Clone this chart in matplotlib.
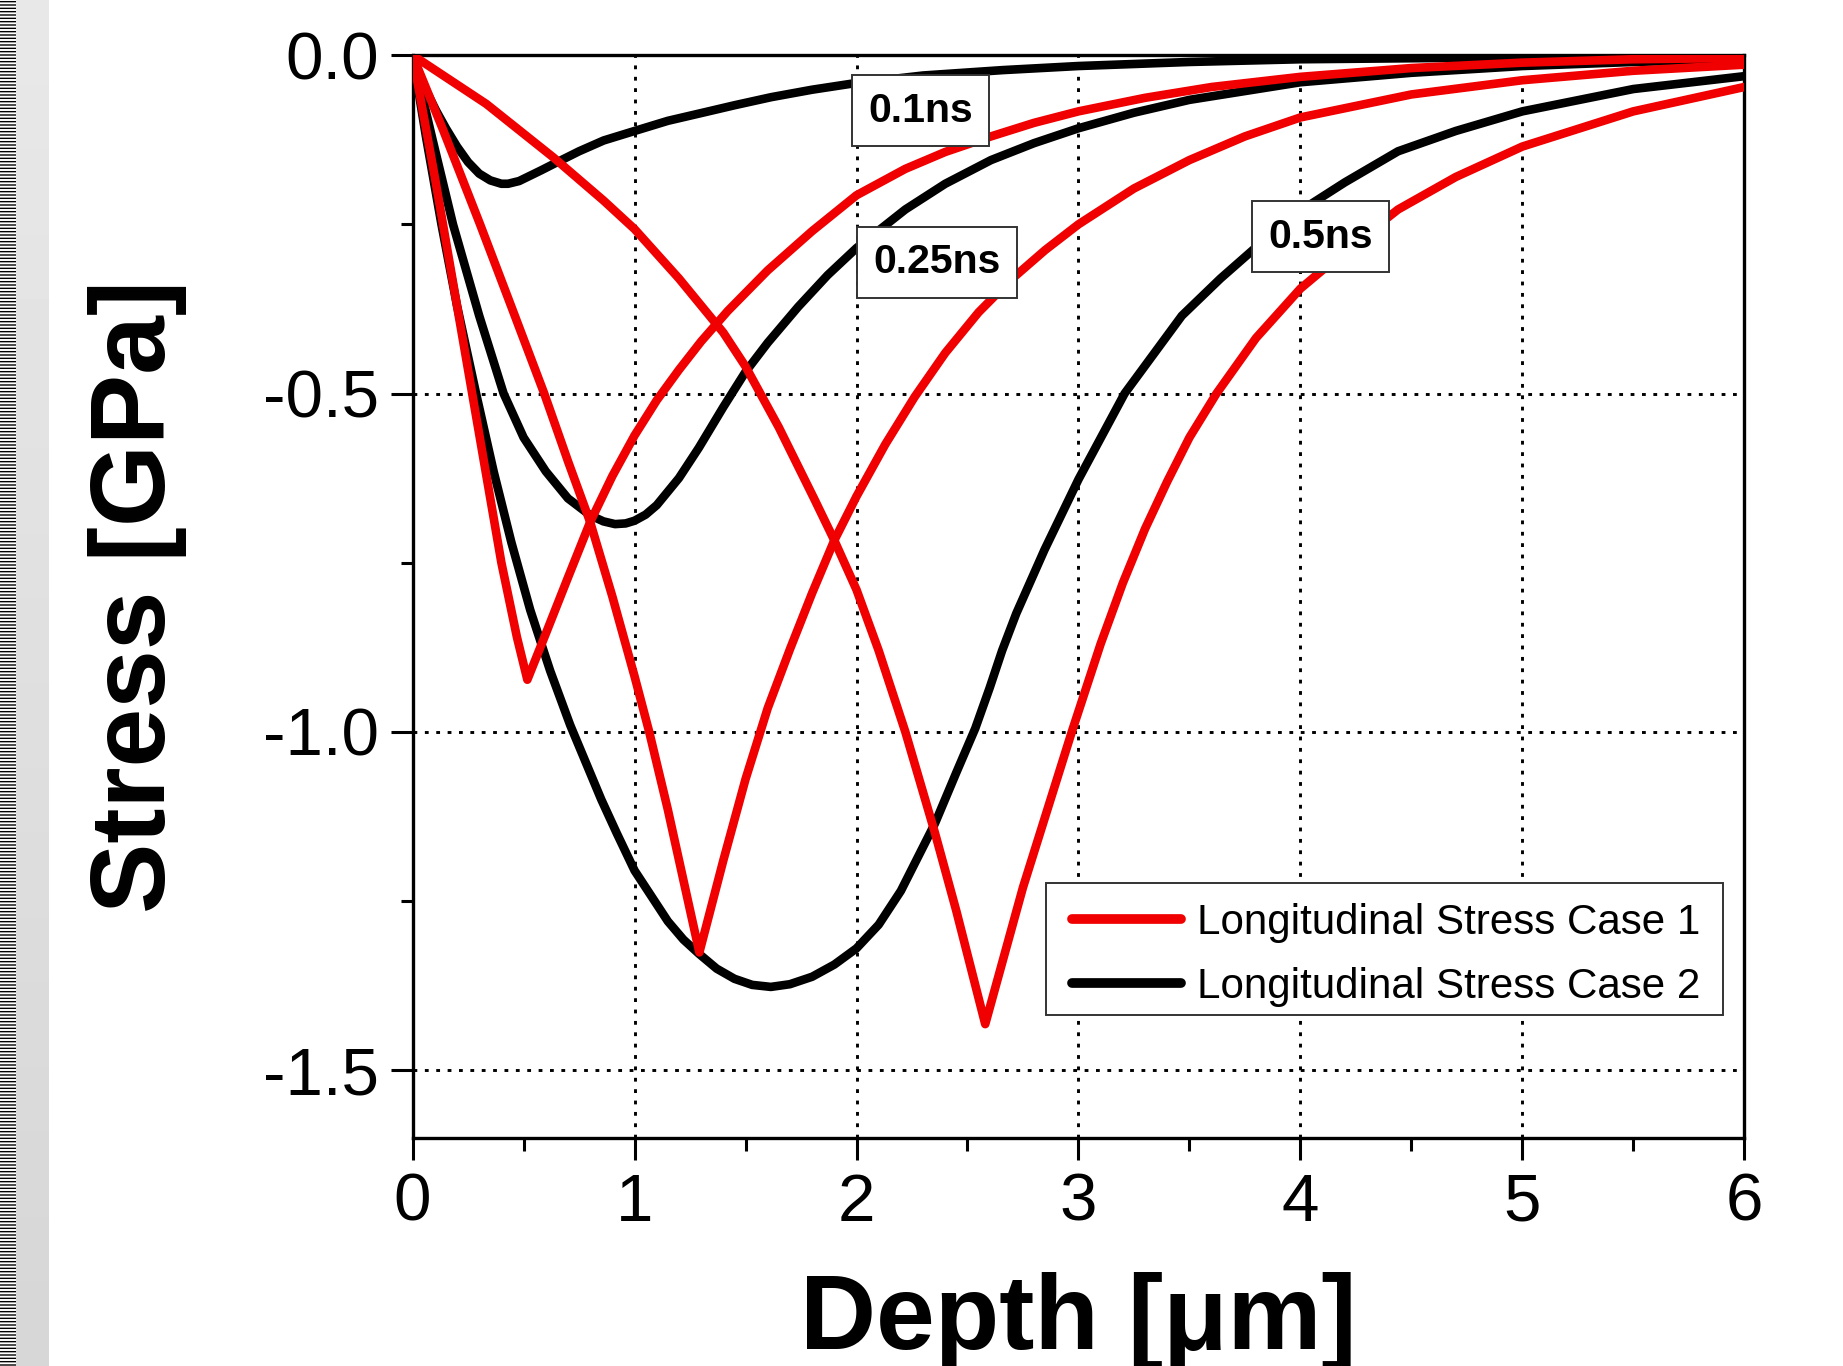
import numpy as np
import matplotlib
matplotlib.use("Agg")
import matplotlib.pyplot as plt
from matplotlib.ticker import MultipleLocator, FixedLocator
from matplotlib.patches import Rectangle

plt.rcParams['font.family'] = ['Liberation Sans', 'DejaVu Sans']
plt.rcParams['axes.unicode_minus'] = False
plt.rcParams['hatch.linewidth'] = 1.0

# ---------------- data ----------------
# Case 1 (red), 0.1 ns
c1_t01_x = [0, 0.1, 0.2, 0.3, 0.4, 0.47, 0.517, 0.6, 0.7, 0.8, 0.9, 1.0, 1.1, 1.2, 1.3, 1.42,
            1.6, 1.8, 2.0, 2.22, 2.4, 2.606, 2.8, 3.0, 3.3, 3.6, 4.0, 4.5, 5.0, 5.5, 6.0]
c1_t01_y = [0, -0.18, -0.37, -0.56, -0.75, -0.86, -0.923, -0.855, -0.772, -0.69, -0.622, -0.562,
            -0.51, -0.465, -0.423, -0.378, -0.318, -0.26, -0.207, -0.168, -0.143, -0.12, -0.1,
            -0.083, -0.063, -0.047, -0.032, -0.019, -0.011, -0.006, -0.004]
# Case 1 (red), 0.25 ns
c1_t025_x = [0, 0.137, 0.304, 0.45, 0.593, 0.7, 0.8, 0.9, 1.0, 1.066, 1.15, 1.292, 1.4, 1.5,
             1.6, 1.7, 1.8, 1.9, 2.0, 2.13, 2.262, 2.4, 2.55, 2.692, 2.85, 3.0, 3.25, 3.5, 3.75,
             4.0, 4.5, 5.0, 5.5, 6.0]
c1_t025_y = [0, -0.11, -0.25, -0.376, -0.5, -0.6, -0.69, -0.8, -0.918, -1.0, -1.115, -1.326, -1.19,
             -1.07, -0.965, -0.878, -0.795, -0.717, -0.652, -0.575, -0.505, -0.44, -0.38, -0.333,
             -0.288, -0.25, -0.197, -0.155, -0.12, -0.092, -0.058, -0.037, -0.023, -0.014]
# Case 1 (red), 0.5 ns
c1_t05_x = [0, 0.332, 0.634, 0.861, 1.0, 1.2, 1.4, 1.5, 1.65, 1.81, 1.9, 2.0, 2.1, 2.22, 2.354,
            2.45, 2.58, 2.75, 2.97, 3.1, 3.2, 3.3, 3.4, 3.5, 3.622, 3.8, 4.0, 4.2, 4.44, 4.7, 5.0,
            5.5, 6.0]
c1_t05_y = [0, -0.072, -0.151, -0.215, -0.257, -0.33, -0.41, -0.46, -0.55, -0.656, -0.717, -0.79,
            -0.88, -1.0, -1.15, -1.265, -1.432, -1.23, -1.0, -0.87, -0.78, -0.7, -0.63, -0.565,
            -0.5, -0.418, -0.345, -0.29, -0.228, -0.18, -0.135, -0.083, -0.047]
# Case 2 (black), 0.1 ns
c2_t01_x = [0, 0.05, 0.106, 0.15, 0.2, 0.25, 0.3, 0.35, 0.4, 0.43, 0.48, 0.53, 0.58, 0.634, 0.75,
            0.861, 1.0, 1.15, 1.32, 1.45, 1.616, 1.8, 1.98, 2.3, 2.66, 3.0, 3.5, 4.0, 5.0, 6.0]
c2_t01_y = [0, -0.045, -0.082, -0.108, -0.135, -0.158, -0.175, -0.185, -0.19, -0.19, -0.186,
            -0.178, -0.17, -0.161, -0.142, -0.126, -0.112, -0.097, -0.084, -0.074, -0.062, -0.051,
            -0.042, -0.03, -0.022, -0.016, -0.01, -0.006, -0.003, -0.002]
# Case 2 (black), 0.25 ns
c2_t025_x = [0, 0.09, 0.182, 0.3, 0.41, 0.5, 0.6, 0.7, 0.8, 0.86, 0.912, 0.96, 1.0, 1.05, 1.1,
             1.2, 1.29, 1.4, 1.5, 1.6, 1.737, 1.87, 2.0, 2.22, 2.4, 2.606, 2.8, 3.0, 3.25, 3.5,
             4.0, 4.5, 5.0, 5.5, 6.0]
c2_t025_y = [0, -0.125, -0.25, -0.385, -0.5, -0.565, -0.615, -0.655, -0.68, -0.689, -0.693,
             -0.692, -0.688, -0.679, -0.665, -0.625, -0.58, -0.52, -0.468, -0.425, -0.372, -0.325,
             -0.285, -0.228, -0.19, -0.155, -0.13, -0.108, -0.085, -0.066, -0.04, -0.026, -0.016,
             -0.01, -0.006]
# Case 2 (black), 0.5 ns
c2_t05_x = [0, 0.06, 0.13, 0.2, 0.286, 0.365, 0.445, 0.53, 0.62, 0.71, 0.85, 0.92, 1.0, 1.08,
            1.15, 1.22, 1.29, 1.37, 1.45, 1.53, 1.614, 1.7, 1.8, 1.9, 2.0, 2.1, 2.2, 2.354, 2.45,
            2.535, 2.6, 2.656, 2.72, 2.847, 3.0, 3.208, 3.466, 3.64, 3.81, 4.0, 4.2, 4.44, 4.7,
            5.0, 5.5, 6.0]
c2_t05_y = [0, -0.12, -0.25, -0.37, -0.5, -0.615, -0.72, -0.82, -0.91, -0.99, -1.1, -1.15, -1.205,
            -1.245, -1.28, -1.307, -1.328, -1.35, -1.365, -1.374, -1.377, -1.373, -1.362, -1.344,
            -1.32, -1.285, -1.235, -1.135, -1.06, -0.995, -0.935, -0.88, -0.825, -0.731, -0.627,
            -0.5, -0.385, -0.33, -0.281, -0.23, -0.188, -0.142, -0.112, -0.083, -0.05, -0.031]

legend_labels = ["Longitudinal Stress Case 1", "Longitudinal Stress Case 2"]
time_labels = ["0.1ns", "0.25ns", "0.5ns"]
time_label_x = [2.288, 2.362, 4.089]
time_label_y = [-0.082, -0.306, -0.268]

x_ticks = [0, 1, 2, 3, 4, 5, 6]
y_ticks = [0.0, -0.5, -1.0, -1.5]
y_tick_labels = ["0.0", "-0.5", "-1.0", "-1.5"]

# ---------------- figure ----------------
W, H = 1843, 1366
fig = plt.figure(figsize=(W / 100, H / 100), dpi=100)
fig.patch.set_facecolor('white')

# left page-edge decoration
grad_ax = fig.add_axes([16 / W, 0, 32 / W, 1])
grad_ax.imshow(np.linspace(0.91, 0.84, 64).reshape(-1, 1), cmap='gray', vmin=0, vmax=1,
               aspect='auto', extent=[0, 1, 0, 1])
grad_ax.set_axis_off()
fig.add_artist(Rectangle((0, 0), 16 / W, 1, transform=fig.transFigure, facecolor='white',
                         edgecolor='black', hatch='-----', lw=0))

left, right = 412.6 / W, 1744.3 / W
top, bottom = 1 - 55.2 / H, 1 - 1137.8 / H
ax = fig.add_axes([left, bottom, right - left, top - bottom])

red = '#f00000'
lw = 6.2
kw = dict(lw=lw, solid_joinstyle='round', solid_capstyle='round')
ax.plot(c2_t01_x, c2_t01_y, color='black', zorder=3, **kw)
ax.plot(c2_t025_x, c2_t025_y, color='black', zorder=3, **kw)
ax.plot(c2_t05_x, c2_t05_y, color='black', zorder=3, **kw)
ax.plot(c1_t01_x, c1_t01_y, color=red, zorder=4, **kw)
ax.plot(c1_t025_x, c1_t025_y, color=red, zorder=4, **kw)
ax.plot(c1_t05_x, c1_t05_y, color=red, zorder=4, **kw)

h1, = ax.plot([], [], color=red, lw=7, solid_capstyle='round', label=legend_labels[0])
h2, = ax.plot([], [], color='black', lw=7, solid_capstyle='round', label=legend_labels[1])

ax.set_xlim(0, 6)
ax.set_ylim(-1.6, 0)
ax.xaxis.set_major_locator(FixedLocator(x_ticks))
ax.xaxis.set_minor_locator(MultipleLocator(0.5))
ax.yaxis.set_major_locator(FixedLocator(y_ticks))
ax.set_yticklabels(y_tick_labels)
ax.set_xticklabels([str(v) for v in x_ticks])
ax.yaxis.set_minor_locator(FixedLocator([-0.25, -0.75, -1.25]))

ax.tick_params(axis='both', which='major', direction='out', length=16, width=2.2,
               labelsize=48.5, top=False, right=False)
ax.tick_params(axis='both', which='minor', direction='out', length=9, width=2.2,
               top=False, right=False)
ax.tick_params(axis='x', which='major', pad=9)
ax.tick_params(axis='y', which='major', pad=8)

for s in ax.spines.values():
    s.set_linewidth(2.4)
    s.set_color('black')

ax.grid(True, which='major', color='black', linestyle=(0, (1.3, 2.6)), linewidth=2.1, zorder=1)
ax.set_axisbelow(True)

for t, xx, yy in zip(time_labels, time_label_x, time_label_y):
    ax.text(xx, yy, t, ha='center', va='center', fontsize=29.5, fontweight='bold', zorder=6,
            bbox=dict(boxstyle='square,pad=0.4', facecolor='white', edgecolor='#333333', lw=1.4))

# legend frame drawn separately so that its padding matches the reference
ax.add_patch(Rectangle((0.4756, 0.113), 0.984 - 0.4756, 0.2356 - 0.113, transform=ax.transAxes,
                       facecolor='white', edgecolor='#333333', lw=1.4, zorder=6.5))
leg = ax.legend(handles=[h1, h2], loc='center left', bbox_to_anchor=(0.4951, 0.1689),
                borderaxespad=0, borderpad=0, fontsize=30.3, handlelength=2.6,
                handletextpad=0.38, labelspacing=0.56, frameon=False)
leg.set_zorder(7)

fig.text(1078 / W, 1 - 1349 / H, "Depth [μm]", ha='center', va='baseline',
         fontsize=76, fontweight='bold')
fig.text(138 / W, 1 - 596.5 / H, "Stress [GPa]", ha='center', va='center', rotation=90,
         fontsize=76, fontweight='bold')

fig.savefig('out.png', dpi=100, facecolor='white')
